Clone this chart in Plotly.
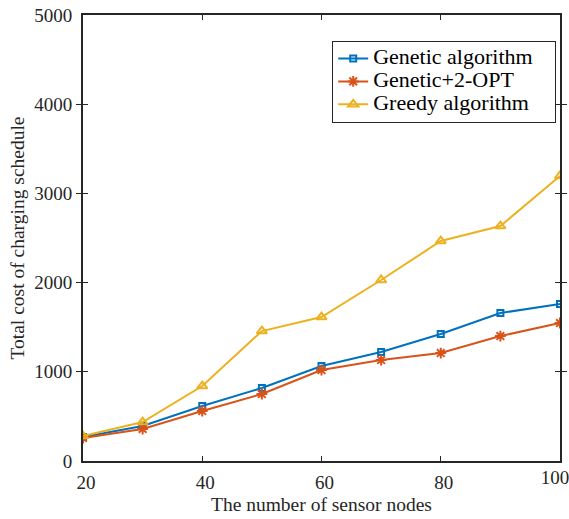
import plotly.graph_objects as go

nodes = [20, 30, 40, 50, 60, 70, 80, 90, 100]
genetic = [270, 392, 617, 818, 1065, 1222, 1424, 1659, 1760]
genetic_2opt = [258, 359, 560, 751, 1020, 1132, 1210, 1401, 1547]
greedy = [280, 437, 840, 1457, 1614, 2029, 2466, 2634, 3195]

x_tickvals = [20, 40, 60, 80]
x_last_tick = [100]
y_tickvals = [0, 1000, 2000, 3000, 4000, 5000]

names = ["Genetic algorithm", "Genetic+2-OPT", "Greedy algorithm"]
colors = ["#0072BD", "#D95319", "#EDB120"]
symbols = ["square-open", "asterisk-open", "triangle-up-open"]
sizes = [6, 9, 9]

fig = go.Figure()
for ys, nm, c, s, sz in zip([genetic, genetic_2opt, greedy], names, colors, symbols, sizes):
    fig.add_trace(go.Scatter(
        x=nodes, y=ys, name='<span style="font-size:22px">' + nm + '&nbsp;&nbsp;&nbsp;</span>',
        mode="lines+markers",
        line=dict(color=c, width=2),
        marker=dict(symbol=s, size=sz, color=c, line=dict(color=c, width=2)),
    ))
# helper (draws nothing) so the overlay axis carrying the last x tick label is rendered
fig.add_trace(go.Scatter(x=nodes, y=genetic, xaxis="x2", yaxis="y", mode="none",
                         showlegend=False, hoverinfo="skip"))

font = "Liberation Serif"
tickfont = dict(family=font, size=19, color="#262626")
axis_common = dict(
    showgrid=False, zeroline=False, showline=True, linecolor="#262626", linewidth=2,
    mirror="allticks", ticks="inside", ticklen=5, tickwidth=1.2, tickcolor="#262626",
    tickfont=tickfont, ticklabeloverflow="allow", automargin=False,
)
fig.update_layout(
    width=569, height=519,
    margin=dict(l=83, r=9, t=15, b=58),
    paper_bgcolor="white", plot_bgcolor="white",
    xaxis=dict(range=[20, 100], tickvals=x_tickvals + x_last_tick,
               ticktext=[str(v) for v in x_tickvals] + [""],
               ticklabelstandoff=3, ticklabelshift=3,
               title=dict(text="The number of sensor nodes", font=dict(family=font, size=19.5, color="#262626"), standoff=6),
               **axis_common),
    xaxis2=dict(overlaying="x", anchor="y", side="bottom", range=[20, 100],
                tickvals=x_last_tick, ticks="", showline=False, showgrid=False, zeroline=False,
                ticklabelstandoff=3, ticklabelshift=-5, tickfont=tickfont,
                ticklabeloverflow="allow", automargin=False),
    yaxis=dict(range=[0, 5000], tickvals=y_tickvals,
               ticklabelstandoff=5,
               title=dict(text="Total cost of charging schedule", font=dict(family=font, size=19.5, color="#262626"), standoff=4),
               **axis_common),
    legend=dict(x=0.522, y=0.942, xanchor="left", yanchor="top",
                bgcolor="white", bordercolor="#262626", borderwidth=1.2,
                font=dict(family=font, size=15.3, color="#000000"),
                tracegroupgap=0, itemwidth=30),
    showlegend=True,
)
fig.write_html("out.html")
